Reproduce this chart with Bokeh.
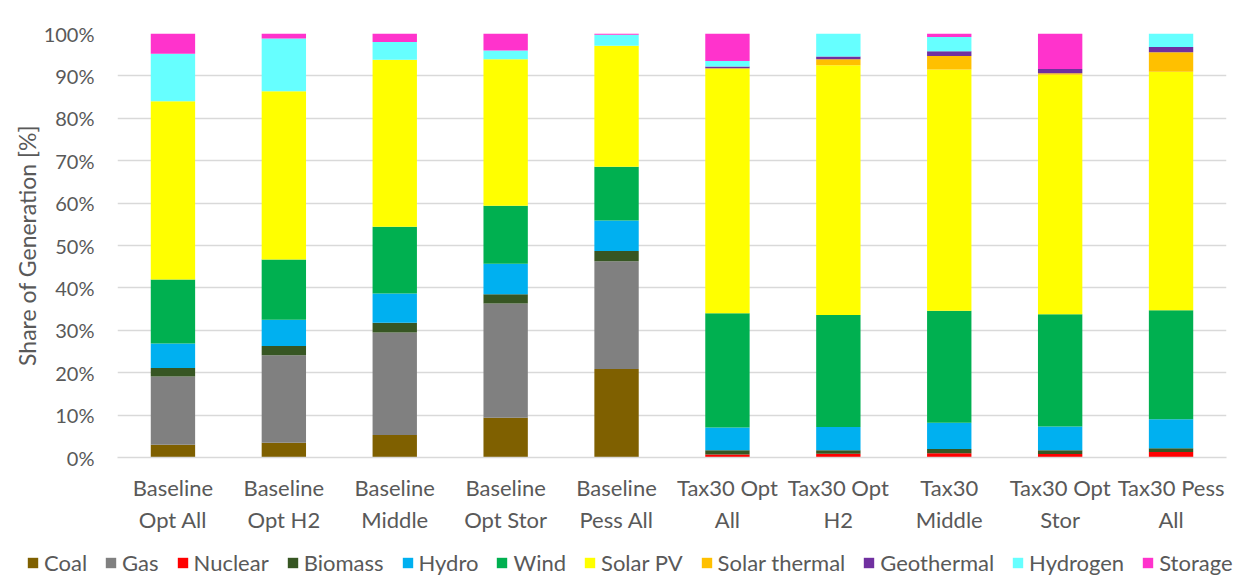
from bokeh.plotting import figure
from bokeh.models import FactorRange, FixedTicker, PrintfTickFormatter, Legend, ColumnDataSource
from bokeh.embed import file_html
from bokeh.resources import INLINE

scenarios = ["Baseline\nOpt All", "Baseline\nOpt H2", "Baseline\nMiddle", "Baseline\nOpt Stor",
             "Baseline\nPess All", "Tax30 Opt\nAll", "Tax30 Opt\nH2", "Tax30\nMiddle",
             "Tax30 Opt\nStor", "Tax30 Pess\nAll"]
sources = ["Coal", "Gas", "Nuclear", "Biomass", "Hydro", "Wind", "Solar PV",
           "Solar thermal", "Geothermal", "Hydrogen", "Storage"]
colors = ["#7F6000", "#808080", "#FF0000", "#375623", "#00B0F0", "#00B050", "#FFFF00",
          "#FFC000", "#7030A0", "#66FFFF", "#FF33CC"]

coal          = [3.0, 3.5, 5.3, 9.4, 20.9, 0.0, 0.0, 0.0, 0.0, 0.0]
gas           = [16.1, 20.6, 24.2, 26.9, 25.4, 0.0, 0.0, 0.0, 0.0, 0.0]
nuclear       = [0.0, 0.0, 0.0, 0.0, 0.0, 0.7, 0.9, 1.0, 0.8, 1.3]
biomass       = [2.0, 2.2, 2.3, 2.2, 2.4, 1.0, 0.8, 1.0, 0.9, 0.9]
hydro         = [5.8, 6.2, 6.9, 7.2, 7.2, 5.4, 5.5, 6.2, 5.6, 6.8]
wind          = [15.1, 14.2, 15.7, 13.7, 12.7, 26.9, 26.4, 26.4, 26.5, 25.7]
solar_pv      = [42.0, 39.7, 39.4, 34.5, 28.5, 57.7, 58.9, 56.9, 56.5, 56.3]
solar_thermal = [0.0, 0.0, 0.0, 0.0, 0.0, 0.1, 1.4, 3.2, 0.3, 4.6]
geothermal    = [0.0, 0.0, 0.0, 0.0, 0.0, 0.4, 0.7, 1.1, 1.0, 1.2]
hydrogen      = [11.2, 12.4, 4.2, 2.1, 2.6, 1.3, 5.4, 3.4, 0.0, 3.2]
storage       = [4.8, 1.2, 2.0, 4.0, 0.3, 6.5, 0.0, 0.8, 8.4, 0.0]

yticks = [0, 10, 20, 30, 40, 50, 60, 70, 80, 90, 100]

data = {"x": scenarios}
for name, vals in zip(sources, [coal, gas, nuclear, biomass, hydro, wind, solar_pv,
                                solar_thermal, geothermal, hydrogen, storage]):
    data[name] = vals
src = ColumnDataSource(data)

grey = "#595959"
font = "Lato"

p = figure(x_range=FactorRange(*scenarios), y_range=(0, 100), width=1241, height=540,
           output_backend="svg", toolbar_location=None,
           min_border_left=117, min_border_right=15, min_border_top=33, min_border_bottom=83)
p.outline_line_color = None

p.vbar_stack(sources, x="x", width=0.4, source=src, color=colors, line_color=None)

p.xgrid.grid_line_color = None
p.ygrid.grid_line_color = "#D9D9D9"
p.ygrid.grid_line_width = 1.5
p.yaxis.ticker = FixedTicker(ticks=yticks)
p.yaxis.formatter = PrintfTickFormatter(format="%d%%")
p.yaxis.axis_line_color = None
p.yaxis.major_tick_line_color = None
p.yaxis.minor_tick_line_color = None
p.yaxis.major_tick_out = 0
p.yaxis.major_label_text_font = font
p.yaxis.major_label_text_font_size = "20px"
p.yaxis.major_label_text_color = grey
p.yaxis.major_label_standoff = 23
p.yaxis.axis_label = "Share of Generation [%]"
p.yaxis.axis_label_text_font = font
p.yaxis.axis_label_text_font_size = "23px"
p.yaxis.axis_label_text_font_style = "normal"
p.yaxis.axis_label_text_color = grey
p.yaxis.axis_label_standoff = 0

p.xaxis.axis_line_color = "#D9D9D9"
p.xaxis.axis_line_width = 1.5
p.xaxis.major_tick_line_color = None
p.xaxis.minor_tick_line_color = None
p.xaxis.major_tick_out = 0
p.xaxis.major_label_text_font = font
p.xaxis.major_label_text_font_size = "22px"
p.xaxis.major_label_text_color = grey
p.xaxis.major_label_standoff = 16
p.xaxis.major_label_orientation = "horizontal"

# legend strip (separate root so its frame spans the full width)
p2 = figure(width=1241, height=36, x_range=(0, 1), y_range=(0, 1),
            output_backend="svg", toolbar_location=None, min_border=0,
            x_axis_location=None, y_axis_location=None)
p2.grid.visible = False
p2.outline_line_color = None
items = []
for s, c in zip(sources, colors):
    r = p2.vbar(x=[0.5], top=[0], bottom=[0], width=0.1, color=c, line_color=None)
    items.append((s, [r]))
legend = Legend(items=items, orientation="horizontal", location=(26, 0),
                label_text_font=font, label_text_font_size="22px", label_text_color=grey,
                glyph_width=13, glyph_height=13, label_standoff=5, spacing=17,
                background_fill_alpha=0, border_line_color=None, padding=0, margin=0)
p2.add_layout(legend, "center")

open("out.html", "w").write(file_html([p, p2], INLINE))
